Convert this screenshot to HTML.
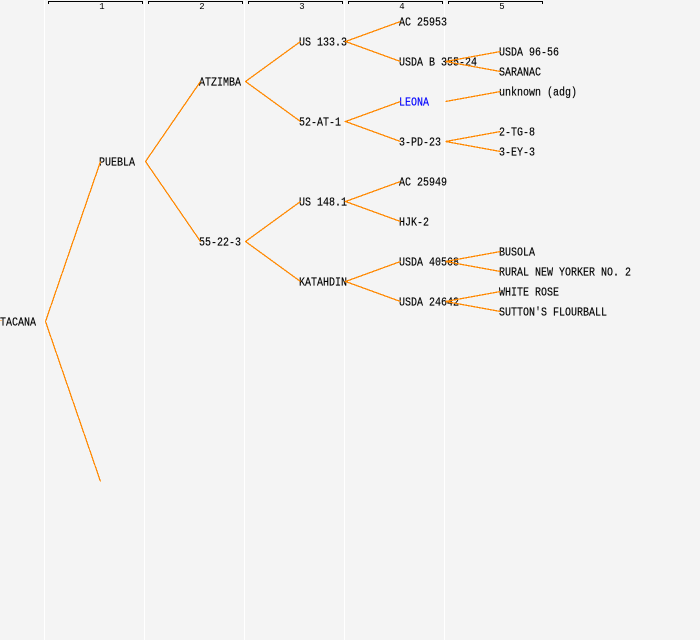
<!DOCTYPE html>
<html>
<head>
<meta charset="utf-8">
<style>
html,body{margin:0;padding:0;background:#f4f4f4;}
svg{display:block;}
text{font-family:"Liberation Mono",monospace;font-size:11.5px;fill:#000;stroke:#000;stroke-width:.15;}
text.n{font-size:9px;text-anchor:middle;stroke:none;}
</style>
</head>
<body>
<svg width="700" height="640" viewBox="0 0 700 640" xmlns="http://www.w3.org/2000/svg">
<rect width="700" height="640" fill="#f4f4f4"/>
<g fill="#ffffff">
<rect x="44" y="0" width="1" height="640"/>
<rect x="144" y="0" width="1" height="640"/>
<rect x="244" y="0" width="1" height="640"/>
<rect x="344" y="0" width="1" height="640"/>
<rect x="444" y="0" width="1" height="640"/>
</g>
<g fill="#000">
<rect x="48" y="1" width="95" height="1"/><rect x="48" y="1" width="1" height="3"/><rect x="142" y="1" width="1" height="3"/>
<rect x="148" y="1" width="95" height="1"/><rect x="148" y="1" width="1" height="3"/><rect x="242" y="1" width="1" height="3"/>
<rect x="248" y="1" width="95" height="1"/><rect x="248" y="1" width="1" height="3"/><rect x="342" y="1" width="1" height="3"/>
<rect x="348" y="1" width="95" height="1"/><rect x="348" y="1" width="1" height="3"/><rect x="442" y="1" width="1" height="3"/>
<rect x="448" y="1" width="95" height="1"/><rect x="448" y="1" width="1" height="3"/><rect x="542" y="1" width="1" height="3"/>
</g>
<text class="n" x="102" y="9">1</text>
<text class="n" x="202" y="9">2</text>
<text class="n" x="302" y="9">3</text>
<text class="n" x="402" y="9">4</text>
<text class="n" x="502" y="9">5</text>

<g transform="translate(0,-0.6)">
<text x="0" y="326" textLength="36" lengthAdjust="spacingAndGlyphs">TACANA</text>
<text x="99" y="166" textLength="36" lengthAdjust="spacingAndGlyphs">PUEBLA</text>
<text x="199" y="86" textLength="42" lengthAdjust="spacingAndGlyphs">ATZIMBA</text>
<text x="199" y="246" textLength="42" lengthAdjust="spacingAndGlyphs">55-22-3</text>
<text x="299" y="46" textLength="48" lengthAdjust="spacingAndGlyphs">US 133.3</text>
<text x="299" y="126" textLength="42" lengthAdjust="spacingAndGlyphs">52-AT-1</text>
<text x="299" y="206" textLength="48" lengthAdjust="spacingAndGlyphs">US 148.1</text>
<text x="299" y="286" textLength="48" lengthAdjust="spacingAndGlyphs">KATAHDIN</text>
<text x="399" y="26" textLength="48" lengthAdjust="spacingAndGlyphs">AC 25953</text>
<text x="399" y="66" textLength="78" lengthAdjust="spacingAndGlyphs">USDA B 355-24</text>
<text x="399" y="106" textLength="30" lengthAdjust="spacingAndGlyphs" style="fill:#0000ff;stroke:#0000ff">LEONA</text>
<text x="399" y="146" textLength="42" lengthAdjust="spacingAndGlyphs">3-PD-23</text>
<text x="399" y="186" textLength="48" lengthAdjust="spacingAndGlyphs">AC 25949</text>
<text x="399" y="226" textLength="30" lengthAdjust="spacingAndGlyphs">HJK-2</text>
<text x="399" y="266" textLength="60" lengthAdjust="spacingAndGlyphs">USDA 40568</text>
<text x="399" y="306" textLength="60" lengthAdjust="spacingAndGlyphs">USDA 24642</text>
<text x="499" y="56" textLength="60" lengthAdjust="spacingAndGlyphs">USDA 96-56</text>
<text x="499" y="76" textLength="42" lengthAdjust="spacingAndGlyphs">SARANAC</text>
<text x="499" y="96" textLength="78" lengthAdjust="spacingAndGlyphs">unknown (adg)</text>
<text x="499" y="136" textLength="36" lengthAdjust="spacingAndGlyphs">2-TG-8</text>
<text x="499" y="156" textLength="36" lengthAdjust="spacingAndGlyphs">3-EY-3</text>
<text x="499" y="256" textLength="36" lengthAdjust="spacingAndGlyphs">BUSOLA</text>
<text x="499" y="276" textLength="132" lengthAdjust="spacingAndGlyphs">RURAL NEW YORKER NO. 2</text>
<text x="499" y="296" textLength="60" lengthAdjust="spacingAndGlyphs">WHITE ROSE</text>
<text x="499" y="316" textLength="108" lengthAdjust="spacingAndGlyphs">SUTTON'S FLOURBALL</text>
</g>

<g stroke="#ff8800" stroke-width="1.25" fill="none" shape-rendering="crispEdges">
<path d="M0.5 320.5h1"/>
<path d="M100.5 161.5L45.5 321.5L100.5 481.5"/>
<path d="M200.5 81.5L145.5 161.5L200.5 241.5"/>
<path d="M300.5 41.5L245.5 81.5L300.5 121.5"/>
<path d="M300.5 201.5L245.5 241.5L300.5 281.5"/>
<path d="M400.5 21.5L345.5 41.5L400.5 61.5"/>
<path d="M400.5 101.5L345.5 121.5L400.5 141.5"/>
<path d="M400.5 181.5L345.5 201.5L400.5 221.5"/>
<path d="M400.5 261.5L345.5 281.5L400.5 301.5"/>
<path d="M500.5 51.5L445.5 61.5L500.5 71.5"/>
<path d="M500.5 91.5L445.5 101.5"/>
<path d="M500.5 131.5L445.5 141.5L500.5 151.5"/>
<path d="M500.5 251.5L445.5 261.5L500.5 271.5"/>
<path d="M500.5 291.5L445.5 301.5L500.5 311.5"/>
</g>
</svg>
</body>
</html>
